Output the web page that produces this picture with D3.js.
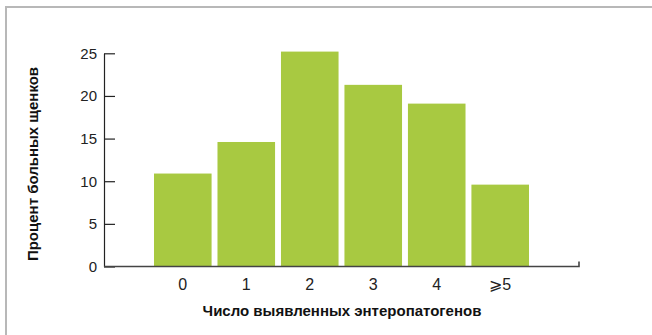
<!DOCTYPE html>
<html>
<head>
<meta charset="utf-8">
<script src="https://cdn.jsdelivr.net/npm/d3@7"></script>
<style>
  body { margin: 0; background: #fff; }
  svg { display: block; font-family: "Liberation Sans", Arial, sans-serif; }
</style>
</head>
<body>
<svg id="chart" width="652" height="335"></svg>
<script>
// Number of enteropathogens detected vs share of sick puppies (%)
const categories = ["0", "1", "2", "3", "4", "\u2a7e5"];
const percentSick = [10.9, 14.6, 25.2, 21.3, 19.1, 9.6];
const yTicks = [0, 5, 10, 15, 20, 25];

const svg = d3.select("#chart");

// outer frame
svg.append("rect")
  .attr("x", 6).attr("y", 7)
  .attr("width", 700).attr("height", 400)
  .attr("fill", "none")
  .attr("stroke", "#b8b8b8")
  .attr("stroke-width", 2);

const axisX = 104, axisEnd = 579;
const baseY = 266.5, topY = 53.3;

const x = d3.scaleBand()
  .domain(categories)
  .range([154, 529])
  .paddingInner(0.093)
  .paddingOuter(0);

const y = d3.scaleLinear().domain([0, 25]).range([baseY, topY]);

// bars
svg.append("g").selectAll("rect")
  .data(percentSick)
  .join("rect")
  .attr("x", (d, i) => x(categories[i]))
  .attr("y", d => y(d))
  .attr("width", x.bandwidth())
  .attr("height", d => y(0) - y(d))
  .attr("fill", "#a8c941");

// y axis
const gy = svg.append("g")
  .attr("transform", `translate(${axisX},0)`)
  .call(d3.axisLeft(y).tickValues(yTicks).tickSize(-11).tickSizeOuter(0).tickPadding(7));
gy.select(".domain").attr("stroke", "#222").attr("stroke-width", 1.2);
gy.selectAll(".tick line").attr("stroke", "#222").attr("stroke-width", 1.2);
gy.selectAll(".tick text")
  .attr("font-size", 15)
  .attr("font-family", "Liberation Sans, Arial, sans-serif")
  .attr("fill", "#222");

// x baseline with closing tick
svg.append("path")
  .attr("d", `M${axisX},${y(0)}H${axisEnd}V${y(0) - 5}`)
  .attr("fill", "none")
  .attr("stroke", "#444")
  .attr("stroke-width", 1.6);

// x labels
svg.append("g").selectAll("text")
  .data(categories)
  .join("text")
  .attr("x", d => x(d) + x.bandwidth() / 2)
  .attr("y", 290)
  .attr("text-anchor", "middle")
  .attr("font-size", 16)
  .attr("fill", "#222")
  .text(d => d);

// axis titles
svg.append("text")
  .attr("x", 342).attr("y", 316)
  .attr("text-anchor", "middle")
  .attr("font-size", 15)
  .attr("font-weight", "bold")
  .attr("fill", "#111")
  .text("Число выявленных энтеропатогенов");

svg.append("text")
  .attr("transform", `translate(38,164) rotate(-90)`)
  .attr("text-anchor", "middle")
  .attr("font-size", 15)
  .attr("font-weight", "bold")
  .attr("fill", "#111")
  .text("Процент больных щенков");
</script>
</body>
</html>
